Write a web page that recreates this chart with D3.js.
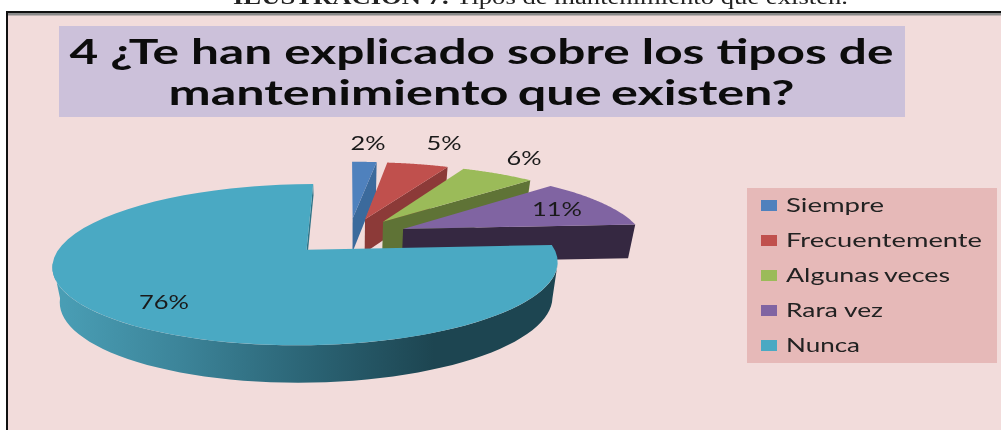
<!DOCTYPE html>
<html>
<head>
<meta charset="utf-8">
<script src="https://cdn.jsdelivr.net/npm/d3@7"></script>
<style>
 html, body { margin: 0; padding: 0; background: #fff; overflow: hidden; }
 svg { display: block; }
</style>
</head>
<body>
<svg id="chart"></svg>
<script>
const categories = ["Siempre", "Frecuentemente", "Algunas veces", "Rara vez", "Nunca"]
const values = [2, 5, 6, 11, 76]
const labels = ["2%", "5%", "6%", "11%", "76%"]
const topColors = ["#4F81BD", "#C0504D", "#9BBB59", "#8064A2", "#4AA9C3"]
const sideColors = ["#3B6A9C", "#8C3A38", "#5F7336", "#352841", "#2E7488"]
const titleLines = ["4 ¿Te han explicado sobre los tipos de", "mantenimiento que existen?"]
const captionBold = "ILUSTRACIÓN 7:"
const captionRest = " Tipos de mantenimiento que existen."

const width = 1001, height = 430
const svg = d3.select("#chart").attr("width", width).attr("height", height)
const root = svg.append("g").style("filter", "blur(0.5px)")

//chart area
root.append("rect").attr("x", 7).attr("y", 13).attr("width", width).attr("height", height).attr("fill", "#F2DCDB")
root.append("rect").attr("x", 7).attr("y", 13).attr("width", width).attr("height", 2.5).attr("fill", "#8a8a8a")
root.append("path").attr("d", "M7 440V12H1010").attr("fill", "none").attr("stroke", "#111").attr("stroke-width", 2)

const cap = root.append("text").attr("x", 233).attr("y", 4)
     .attr("font-family", "Liberation Serif").attr("font-size", 20).attr("fill", "#222")
     .attr("textLength", 615).attr("lengthAdjust", "spacingAndGlyphs")
cap.append("tspan").attr("font-weight", "bold").text(captionBold)
cap.append("tspan").text(captionRest)

//title box
root.append("rect").attr("x", 59).attr("y", 26).attr("width", 846).attr("height", 91).attr("fill", "#CCC1DA")
root.selectAll(".title").data(titleLines).enter().append("text")
     .attr("class", "title")
     .attr("x", 481.5)
     .attr("y", (d, i) => 64 + i * 41)
     .attr("text-anchor", "middle")
     .attr("font-family", "Lato").attr("font-weight", "bold").attr("font-size", 34).attr("fill", "#0c0c0c")
     .attr("word-spacing", (d, i) => i == 0 ? 0 : -2)
     .attr("textLength", (d, i) => i == 0 ? 824 : 626)
     .attr("lengthAdjust", "spacingAndGlyphs")
     .text(d => d)

//pie: ground plane to screen, with some perspective
const cx = 349, cy = 236, rx = 240, ry = 72.8, persp = 0.18, depth = 34, explode = 0.25
const xs = d3.scaleLinear().domain([-1, 1]).range([-rx, rx])
const ys = d3.scaleLinear().domain([-1, 1]).range([ry, -ry])
function project(u, v, z) {
     const k = 1 / (1 + persp * v)
     //bottom rim is further from the eye so it comes out a bit narrower
     return [cx + xs(u) * k * (1 - 0.025 * z), cy + ys(v) * k + z * depth * Math.pow(k, 0.4)]
}

const arcs = d3.pie().sort(null).value(d => d)(values)
const line = d3.line()
const color = d3.scaleOrdinal().domain(categories).range(topColors)
const sideColor = d3.scaleOrdinal().domain(categories).range(sideColors)

function offset(a) {
     const mid = (a.startAngle + a.endAngle) / 2
     return [explode * Math.sin(mid), explode * Math.cos(mid)]
}
function rim(a, from, to, z) {
     const [ou, ov] = offset(a)
     return d3.range(0, 61).map(i => {
          const t = from + (to - from) * i / 60
          return project(ou + Math.sin(t), ov + Math.cos(t), z)
     })
}

const defs = svg.append("defs")
const grad = defs.append("linearGradient").attr("id", "wall").attr("gradientUnits", "userSpaceOnUse")
     .attr("x1", 55).attr("x2", 560).attr("y1", 0).attr("y2", 0)
grad.selectAll("stop").data([[0, "#4A9FB6"], [0.25, "#3C8499"], [0.5, "#2B6475"], [0.75, "#1D4551"], [1, "#1D4551"]])
     .enter().append("stop").attr("offset", d => d[0]).attr("stop-color", d => d[1])

const pieG = root.append("g")
arcs.forEach((a, i) => {
     const name = categories[i]
     const [ou, ov] = offset(a)
     const isBig = i == arcs.length - 1
     //big slice only shows a thin strip of its cut face
     const faceZ = isBig ? 0.35 : 1
     const apexTop = project(ou, ov, 0), apexBot = project(ou, ov, faceZ)

     //cut face on the clockwise end of the slice
     const endTop = rim(a, a.endAngle, a.endAngle, 0)[0], endBot = rim(a, a.endAngle, a.endAngle, faceZ)[0]
     pieG.append("path")
          .attr("d", line([apexTop, endTop, endBot, apexBot]) + "Z")
          .attr("fill", sideColor(name))

     //outer wall, only the part turned to the viewer
     const from = Math.max(a.startAngle, Math.PI / 2 + 0.17), to = Math.min(a.endAngle, 3 * Math.PI / 2 - 0.17)
     if (from < to) {
          pieG.append("path")
               .attr("d", line(rim(a, from, to, 0).concat(rim(a, from, to, 1).reverse())) + "Z")
               .attr("fill", isBig ? "url(#wall)" : sideColor(name))
     }

     //top surface
     pieG.append("path")
          .attr("d", line([apexTop].concat(rim(a, a.startAngle, a.endAngle, 0))) + "Z")
          .attr("fill", color(name))
})

//data labels
const labelPos = [[368, 150], [444, 150], [524, 165], [557, 216], [164, 309]]
root.selectAll(".dlabel").data(labels).enter().append("text")
     .attr("class", "dlabel")
     .attr("x", (d, i) => labelPos[i][0])
     .attr("y", (d, i) => labelPos[i][1])
     .attr("text-anchor", "middle")
     .attr("font-family", "Lato").attr("font-size", 18.5).attr("fill", "#1a1a1a")
     .attr("textLength", d => d.length == 2 ? 35 : 50)
     .attr("lengthAdjust", "spacingAndGlyphs")
     .text(d => d)

//legend
root.append("rect").attr("x", 747).attr("y", 188).attr("width", 250).attr("height", 175).attr("fill", "#E6B9B8")
const legendY = d3.scalePoint().domain(categories).range([205, 345])
const legendW = [98, 196, 164, 97, 74]
const legend = root.selectAll(".legend").data(categories).enter().append("g").attr("class", "legend")
legend.append("rect")
     .attr("x", 761).attr("y", d => legendY(d) - 5)
     .attr("width", 16).attr("height", 11)
     .attr("fill", d => color(d))
legend.append("text")
     .attr("x", 786).attr("y", d => legendY(d) + 7)
     .attr("font-family", "Lato").attr("font-size", 18.5).attr("fill", "#222")
     .attr("word-spacing", d => d == "Algunas veces" ? -1 : 0)
     .attr("textLength", (d, i) => legendW[i])
     .attr("lengthAdjust", "spacingAndGlyphs")
     .text(d => d)
</script>
</body>
</html>
